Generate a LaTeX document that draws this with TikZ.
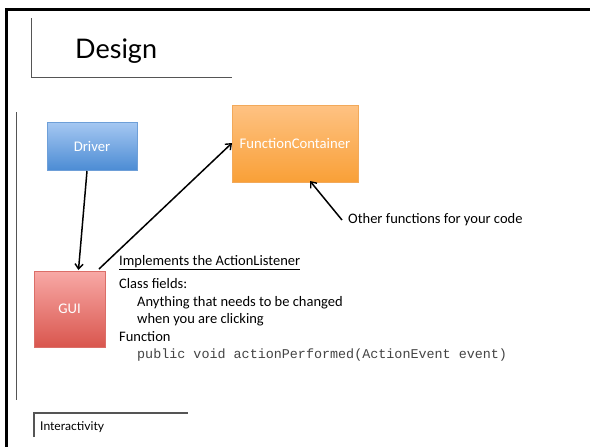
\documentclass[tikz,border=0pt]{standalone}
\usepackage{fontspec}
\setmainfont{Carlito}
\newfontfamily\titlefont{Lato}
\setmonofont{Liberation Mono}
\usetikzlibrary{arrows.meta,shadows}
\definecolor{drvtop}{HTML}{A6C8F2}
\definecolor{drvbot}{HTML}{4C8CD4}
\definecolor{drvline}{HTML}{6E9FD8}
\definecolor{fctop}{HTML}{FEC283}
\definecolor{fcbot}{HTML}{F9A037}
\definecolor{fcline}{HTML}{F2A95A}
\definecolor{guitop}{HTML}{F8A9A6}
\definecolor{guibot}{HTML}{D9564E}
\definecolor{guiline}{HTML}{DB6E68}
\definecolor{rulegray}{HTML}{555555}
\definecolor{codegray}{HTML}{444444}
\tikzset{
  box/.style={rectangle, draw, line width=0.6pt, inner sep=0pt, text=white,
    font=\fontsize{14.7}{17}\selectfont,
    drop shadow={shadow xshift=1pt, shadow yshift=-1pt, opacity=0.25}},
  link/.style={-{Straight Barb[length=5pt,width=8pt,line width=1.4pt]}, line width=1.5pt, black},
  body/.style={font=\fontsize{14.5}{17}\selectfont, anchor=base west, inner sep=0pt},
  rule/.style={draw=rulegray, line width=0.9pt},
}
\begin{document}
\begin{tikzpicture}[x=1pt,y=-1pt]
\useasboundingbox (0,0) rectangle (590,447);
\fill[white] (0,0) rectangle (590,447);
% slide border
\draw[line width=3pt] (6.5,447) -- (6.5,9) -- (590,9);
% title bracket
\draw[rule] (31,18) -- (31,77) -- (232,77);
\node[anchor=base west, inner sep=0pt, font=\titlefont\fontsize{27}{30}\selectfont] (title) at (75,58) {Design};
% content bracket
\draw[rule] (16,112) -- (16,400);
% boxes
\node[box, draw=drvline, top color=drvtop, bottom color=drvbot,
  minimum width=90pt, minimum height=48pt] (driver) at (92,146) {Driver};
\node[box, draw=fcline, top color=fctop, bottom color=fcbot,
  minimum width=126pt, minimum height=77pt] (fc) at (295,143.5) {FunctionContainer};
\node[box, draw=guiline, top color=guitop, bottom color=guibot,
  minimum width=71pt, minimum height=76pt] (gui) at (69.5,309) {GUI};
% connectors
\coordinate (drvout) at (87,171);
\coordinate (guiin) at (78.5,270);
\coordinate (guiout) at (99,269);
\coordinate (fcin) at (232,143);
\draw[link] (drvout) -- (guiin);
\draw[link] (guiout) -- (fcin);
\node[body, anchor=west] (other) at (348,220) {Other functions for your code};
\coordinate (fcbottom) at (310,181);
\draw[link] (other.west) ++(-6,0) coordinate (otherstart) -- (fcbottom);
% GUI description
\node[body] (impl) at (119,265) {\underline{Implements the ActionListener}};
\node[body] (fields) at (119,288) {Class fields:};
\node[body] (any) at (137,306) {Anything that needs to be changed};
\node[body] (when) at (137,323.5) {when you are clicking};
\node[body] (func) at (119,341) {Function};
\node[anchor=base west, inner sep=0pt, text=codegray, font=\ttfamily\fontsize{13.4}{15}\selectfont] (code) at (137,358) {public void actionPerformed(ActionEvent event)};
% footer
\draw[rule, line width=1.1pt] (34,437) -- (34,413) -- (188,413);
\node[anchor=base west, inner sep=0pt, font=\titlefont\fontsize{12.1}{14}\selectfont] (footer) at (40,430) {Interactivity};
\end{tikzpicture}
\end{document}
